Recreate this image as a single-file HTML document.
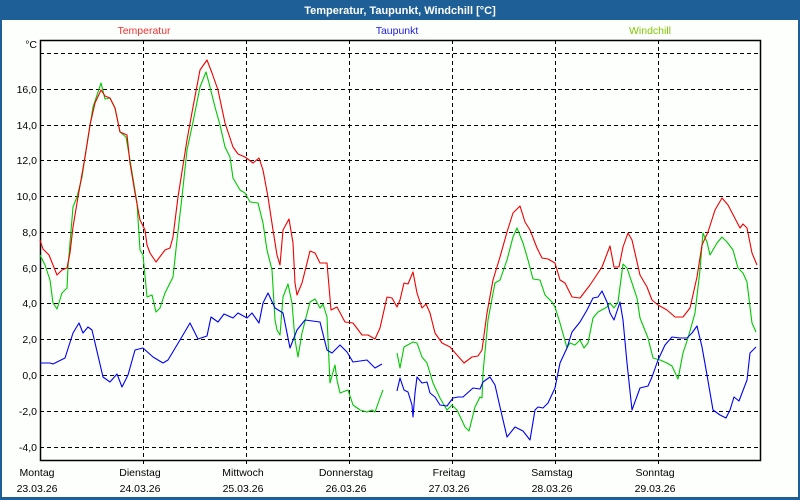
<!DOCTYPE html>
<html><head><meta charset="utf-8"><style>
html,body{margin:0;padding:0;width:800px;height:500px;overflow:hidden;background:#fff}
svg{display:block}
text{font-family:"Liberation Sans",Arial,sans-serif;font-size:10.5px}
</style></head><body>
<svg width="800" height="500" viewBox="0 0 800 500" xmlns="http://www.w3.org/2000/svg">
<rect x="0" y="0" width="800" height="500" fill="#1d5f96"/>
<rect x="2" y="20" width="796" height="477" fill="#fdfffd"/>
<text x="400" y="14" text-anchor="middle" fill="#fff" font-weight="bold" style="font-size:11px">Temperatur, Taupunkt, Windchill [°C]</text>
<text x="144" y="34" text-anchor="middle" fill="#f03030">Temperatur</text>
<text x="397" y="34" text-anchor="middle" fill="#2020e0">Taupunkt</text>
<text x="650" y="34" text-anchor="middle" fill="#80c800">Windchill</text>
<g stroke="#000" stroke-width="1" stroke-dasharray="4,3" fill="none">
<path d="M40 53.5H760M40 89.5H760M40 125.5H760M40 160.5H760M40 196.5H760M40 232.5H760M40 268.5H760M40 303.5H760M40 339.5H760M40 375.5H760M40 411.5H760M40 447.5H760"/>
<path d="M143.5 40V466M246.5 40V466M349.5 40V466M452.5 40V466M555.5 40V466M658.5 40V466"/>
</g>
<rect x="40.5" y="40.5" width="720" height="420" fill="none" stroke="#000" stroke-width="1.5"/>
<g text-anchor="end" fill="#000">
<text x="37" y="48">°C</text>
<text x="37" y="93">16,0</text><text x="37" y="129">14,0</text><text x="37" y="164">12,0</text>
<text x="37" y="200">10,0</text><text x="37" y="236">8,0</text><text x="37" y="272">6,0</text>
<text x="37" y="307">4,0</text><text x="37" y="343">2,0</text><text x="37" y="379">0,0</text>
<text x="37" y="415">-2,0</text><text x="37" y="451">-4,0</text>
</g>
<g text-anchor="middle" fill="#000">
<text x="37" y="476">Montag</text><text x="37" y="492">23.03.26</text>
<text x="140" y="476">Dienstag</text><text x="140" y="492">24.03.26</text>
<text x="243" y="476">Mittwoch</text><text x="243" y="492">25.03.26</text>
<text x="346" y="476">Donnerstag</text><text x="346" y="492">26.03.26</text>
<text x="449" y="476">Freitag</text><text x="449" y="492">27.03.26</text>
<text x="552" y="476">Samstag</text><text x="552" y="492">28.03.26</text>
<text x="655" y="476">Sonntag</text><text x="655" y="492">29.03.26</text>
</g>
<g fill="none" stroke-width="1.1" stroke-linejoin="round">
<polyline stroke="#00c800" points="40,255 45,265 50,280 53,303 57,309 62,293 67,288 68,267 73,207 77,197 82,177 85,157 93,107 101,83 105,99 110,98 115,108 120,132 126,137 130,160 137,203 140,250 143,255 147,297 152,295 156,312 160,308 165,293 173,277 177,240 182,197 187,150 193,122 200,87 206,72 209,83 215,107 220,125 225,147 230,157 233,178 240,190 245,193 250,202 258,203 263,223 267,250 272,270 275,320 277,330 280,335 283,297 288,284 292,303 295,340 298,357 302,333 310,302 315,299 320,308 323,304 327,317 330,383 333,372 335,365 337,380 340,393 348,390 353,405 360,410 367,412 372,410 375,412 380,398 383,390"/>
<polyline stroke="#00c800" points="397,353 400,368 404,347 413,342 417,343 422,357 427,363 433,383 440,398 447,410 452,405 457,410 465,427 469,431 475,407 480,397 482,398 483,373 488,320 495,283 500,280 507,260 513,237 517,228 523,243 528,260 533,279 540,280 545,295 552,302 555,307 560,323 567,348 570,343 575,345 580,340 584,348 588,343 593,318 598,312 607,307 610,303 614,308 618,302 623,264 627,268 637,298 640,318 648,338 653,358 660,360 667,363 672,366 678,379 683,353 688,338 695,313 700,270 703,233 707,242 710,255 717,243 722,237 727,242 733,250 738,268 743,273 747,282 750,307 752,323 756,332"/>
<polyline stroke="#f00000" points="40,240 43,249 49,255 57,275 62,270 67,268 70,253 73,227 78,197 85,157 90,125 95,103 101,90 105,96 110,98 115,108 120,132 127,135 130,163 135,193 140,220 145,230 147,245 150,253 156,262 165,250 170,248 173,237 178,197 187,140 193,107 200,70 207,60 212,73 218,90 225,123 233,147 238,154 245,157 253,163 259,158 263,170 268,197 273,230 277,255 280,265 283,230 289,219 293,243 295,283 297,295 302,283 310,251 315,253 320,263 327,263 331,310 337,307 345,322 353,323 362,335 368,335 375,339 380,328 387,297 392,298 397,307 400,300 404,283 408,284 413,272 417,293 422,308 426,304 430,313 435,333 442,343 450,347 457,355 464,363 472,357 478,356 482,350 487,313 493,280 500,257 507,232 513,213 520,206 525,222 530,230 537,248 542,258 548,259 555,263 560,280 565,283 572,297 580,298 590,285 602,267 610,246 614,267 619,267 623,247 628,233 632,240 640,275 647,287 652,300 658,305 667,310 675,317 683,317 690,308 697,277 702,245 708,232 715,210 722,198 728,205 740,228 743,224 747,228 752,253 757,265"/>
<polyline stroke="#0000f0" points="40,363 50,363 53,364 65,358 73,333 79,323 83,333 88,327 92,330 103,377 110,382 117,374 122,387 128,375 135,350 143,348 153,357 163,363 168,360 180,340 190,323 198,339 207,336 211,317 218,322 224,314 233,318 238,313 247,318 252,313 259,323 263,303 268,293 275,308 283,313 290,348 297,330 305,320 320,322 327,350 332,353 340,345 347,352 353,362 367,360 375,368 382,364"/>
<polyline stroke="#0000f0" points="397,391 400,378 404,390 408,392 412,405 413,417 415,393 417,377 422,383 427,382 430,393 435,397 440,405 447,406 453,398 458,397 463,397 473,388 480,389 483,382 490,377 495,385 500,407 507,437 515,427 523,431 530,440 535,410 538,407 543,408 548,403 555,388 560,363 567,348 572,332 580,322 587,310 593,298 598,297 602,291 607,302 610,313 614,320 620,302 623,320 627,363 632,410 640,388 648,386 652,377 658,360 665,345 672,337 680,338 687,338 692,333 697,326 702,347 707,375 713,410 720,415 726,418 730,410 734,397 739,401 747,380 750,353 756,347"/>
</g>
</svg>
</body></html>
